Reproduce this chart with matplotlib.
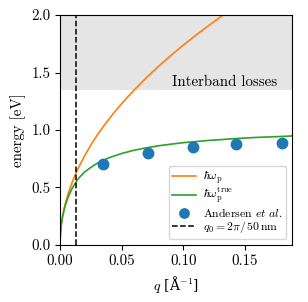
import numpy as np
import matplotlib
matplotlib.use('Agg')
import matplotlib.pyplot as plt

plt.rcParams['font.family'] = 'serif'
plt.rcParams['font.serif'] = ['cmr10']
plt.rcParams['mathtext.fontset'] = 'cm'
plt.rcParams['axes.formatter.use_mathtext'] = True
plt.rcParams['font.size'] = 10.8

# curves
q = [0, 0.0001, 0.0003, 0.0005, 0.001, 0.002, 0.003, 0.004, 0.005, 0.007, 0.01,
     0.0125, 0.015, 0.02, 0.025, 0.03, 0.035, 0.04, 0.045, 0.05, 0.055, 0.06,
     0.07, 0.08, 0.09, 0.10, 0.11, 0.12, 0.13, 0.14, 0.15, 0.16, 0.17, 0.18, 0.188]
e_plasmon = [0, 0.055, 0.095, 0.123, 0.174, 0.246, 0.301, 0.348, 0.389, 0.460, 0.55,
             0.615, 0.674, 0.778, 0.870, 0.953, 1.029, 1.10, 1.167, 1.230, 1.290, 1.347,
             1.455, 1.556, 1.650, 1.739, 1.824, 1.905, 1.983, 2.058, 2.130, 2.2, 2.268, 2.333, 2.385]
e_true = [0, 0.055, 0.095, 0.124, 0.175, 0.244, 0.291, 0.335, 0.367, 0.428, 0.497,
          0.540, 0.580, 0.636, 0.675, 0.710, 0.735, 0.760, 0.778, 0.796, 0.810, 0.824,
          0.845, 0.863, 0.877, 0.890, 0.899, 0.909, 0.916, 0.924, 0.930, 0.936, 0.940, 0.944, 0.948]

# measured points
q_meas = [0.0348, 0.0714, 0.108, 0.143, 0.180]
e_meas = [0.70, 0.80, 0.85, 0.875, 0.89]

q0 = 2 * np.pi / 500  # 50 nm in 1/Angstrom
interband = 1.35

fig = plt.figure(figsize=(3.08, 3.02), dpi=100)
ax = fig.add_axes([0.195, 0.189, 0.753, 0.761])

ax.axhspan(interband, 2.0, color='#e5e5e5', lw=0, zorder=0)
ax.text(0.176, 1.42, 'Interband losses', ha='right', va='center')

ax.plot(q, e_plasmon, color='tab:orange', lw=1.2, label=r'$\hbar\omega_\mathrm{p}$')
ax.plot(q, e_true, color='tab:green', lw=1.2, label=r'$\hbar\omega_\mathrm{p}^\mathrm{true}$')
ax.plot(q_meas, e_meas, 'o', color='tab:blue', ms=7.5, ls='none',
        label=r'Andersen $\it{et\ al.}$')
ax.axvline(q0, color='k', ls='--', lw=1.1, label=r'$q_0 = 2\pi/\,50\,\mathrm{nm}$')

ax.set_xlim(0, 0.188)
ax.set_ylim(0, 2.0)
ax.set_xticks([0, 0.05, 0.10, 0.15])
ax.set_xticklabels(['0.00', '0.05', '0.10', '0.15'])
ax.set_yticks([0, 0.5, 1.0, 1.5, 2.0])
ax.set_yticklabels(['0.0', '0.5', '1.0', '1.5', '2.0'])
ax.set_xlabel(r'$q$ [Å$^{-1}$]', family=['DejaVu Serif'], fontsize=10)
ax.set_ylabel('energy [eV]')
ax.legend(loc='lower right', fontsize=8.5, labelspacing=0.0, markerscale=0.9,
          borderpad=0.3, handletextpad=0.6)

fig.savefig('out.png', dpi=100)
